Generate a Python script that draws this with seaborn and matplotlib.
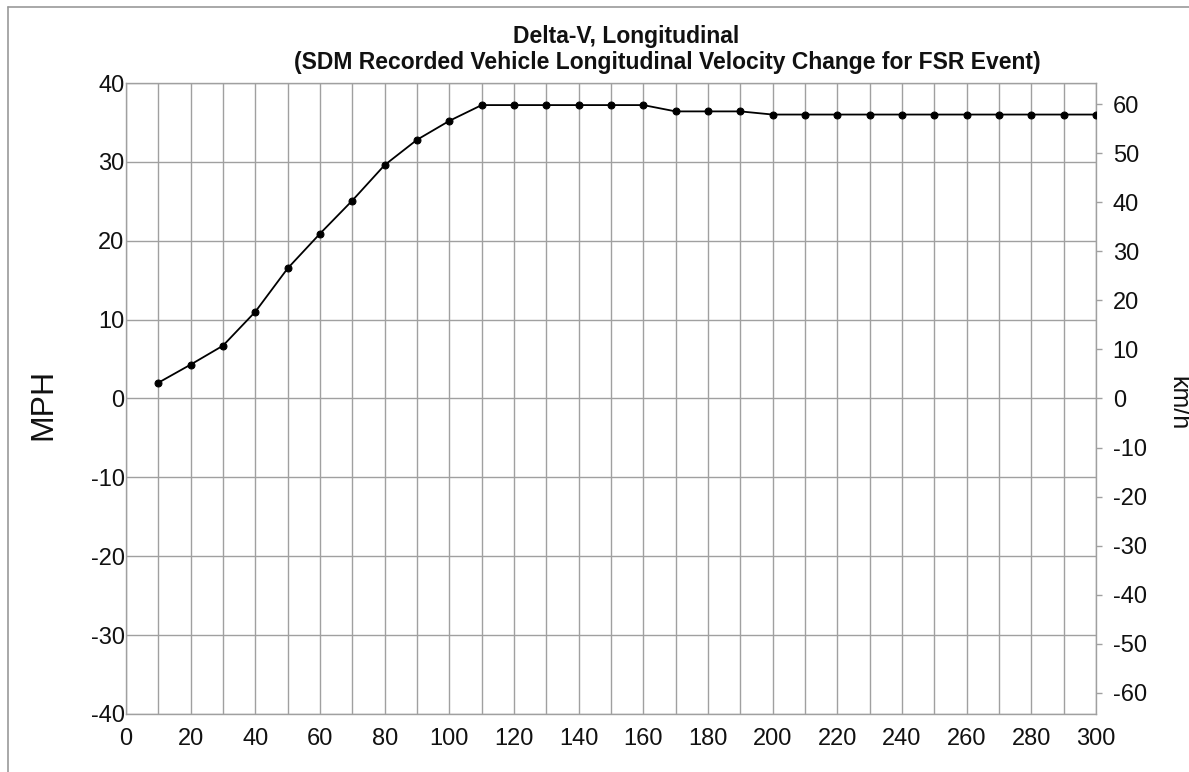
import matplotlib
matplotlib.use("Agg")
import matplotlib.pyplot as plt
from matplotlib.lines import Line2D
import seaborn as sns
import pandas as pd
import numpy as np

# Data
time_ms = [10, 20, 30, 40, 50, 60, 70, 80, 90, 100,
           110, 120, 130, 140, 150, 160, 170, 180, 190, 200,
           210, 220, 230, 240, 250, 260, 270, 280, 290, 300]
delta_v_mph = [2.0, 4.3, 6.7, 11.0, 16.5, 20.9, 25.1, 29.6, 32.8, 35.2,
               37.2, 37.2, 37.2, 37.2, 37.2, 37.2, 36.4, 36.4, 36.4, 36.0,
               36.0, 36.0, 36.0, 36.0, 36.0, 36.0, 36.0, 36.0, 36.0, 36.0]
x_ticks = list(range(0, 301, 20))
y_ticks_mph = list(range(-40, 41, 10))
y_ticks_kmh = list(range(-60, 61, 10))
title_line1 = "Delta-V, Longitudinal"
title_line2 = "(SDM Recorded Vehicle Longitudinal Velocity Change for FSR Event)"

df = pd.DataFrame({"t": time_ms, "mph": delta_v_mph})

sns.set_theme(style="white")
plt.rcParams['font.family'] = ['Liberation Sans', 'DejaVu Sans']
plt.rcParams['axes.unicode_minus'] = False

fig = plt.figure(figsize=(11.89, 7.72), dpi=100)
ax = fig.add_axes([126/1189, 1 - 714/772, (1096-126)/1189, (714-83)/772])

grid_c = "#a0a0a0"
ax.set_xlim(0, 300)
ax.set_ylim(-40, 40)
ax.set_xticks(x_ticks)
ax.set_xticks(list(range(0, 301, 10)), minor=True)
ax.set_yticks(y_ticks_mph)
ax.grid(True, which="both", axis="x", color=grid_c, linewidth=1.0)
ax.grid(True, which="major", axis="y", color=grid_c, linewidth=1.0)
ax.set_axisbelow(True)

sns.lineplot(data=df, x="t", y="mph", ax=ax, color="black", linewidth=1.3,
             marker="o", markersize=5, markeredgecolor="black", zorder=3)

for s in ax.spines.values():
    s.set_color(grid_c)
    s.set_linewidth(1.0)

ax.tick_params(axis="both", which="both", length=0, labelsize=17, colors="#111111")
ax.tick_params(axis="x", pad=10)
ax.tick_params(axis="y", pad=1)
ax.set_xlabel("")
ax.set_ylabel("")

ax2 = ax.twinx()
ax2.set_ylim(-40 * 1.609344, 40 * 1.609344)
ax2.set_yticks(y_ticks_kmh)
ax2.tick_params(axis="y", length=4, width=1, color=grid_c, labelsize=17,
                labelcolor="#111111", pad=8)
for s in ax2.spines.values():
    s.set_visible(False)
ax2.grid(False)

fig.text(43/1189, 1 - 404/772, "MPH", rotation=90, fontsize=23,
         ha="center", va="center", color="#111111")
fig.text(1178/1189, 1 - 403/772, "km/h", rotation=270, fontsize=18,
         ha="center", va="center", color="#111111")

fig.text(626/1189, 1 - 37/772, title_line1, fontsize=16.5, fontweight="bold",
         ha="center", va="center", color="#111111")
fig.text(667/1189, 1 - 62/772, title_line2, fontsize=16.5, fontweight="bold",
         ha="center", va="center", color="#111111")

# screenshot frame lines
fig.add_artist(Line2D([8/1189, 1], [1 - 7/772, 1 - 7/772], color="#999999", linewidth=1.2,
                      transform=fig.transFigure))
fig.add_artist(Line2D([8/1189, 8/1189], [0, 1 - 7/772], color="#999999", linewidth=1.2,
                      transform=fig.transFigure))

fig.savefig("out.png", dpi=100)
